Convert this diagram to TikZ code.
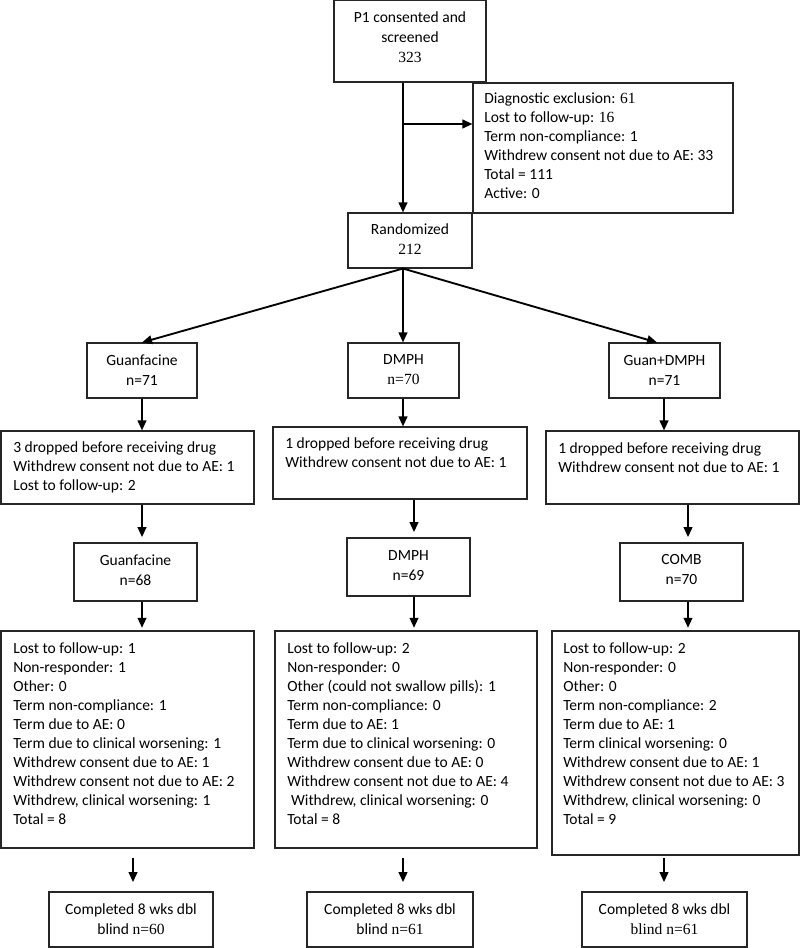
\documentclass[tikz,border=0pt]{standalone}
\usepackage{fontspec}
\setmainfont{Carlito}
\newfontfamily\tnr{Liberation Serif}
\usetikzlibrary{arrows.meta,fit}
\newcommand\myfs{\fontsize{11.65}{14.25}\selectfont}
\newcommand\myfsc{\fontsize{11.65}{15}\selectfont}
\begin{document}
\begin{tikzpicture}[x=0.75pt,y=-0.75pt,
  box/.style={draw=black!85,line width=0.8pt,inner sep=0pt},
  ltxt/.style={inner sep=0pt,anchor=north west,align=left,font=\myfs},
  ctxt/.style={inner sep=0pt,align=center,font=\myfsc},
  arr/.style={-{Triangle[length=7.5pt,width=6.5pt]},line width=1.4pt}]
\useasboundingbox (0,0) rectangle (800,948);

% row 0
\node[box,fit={(334,0.6)(486,82)}] (top) {};
\node[ctxt] (topT) at (410,37) {P1 consented and\\screened\\{\tnr 323}};
\node[box,fit={(473,83)(733,213)}] (excl) {};
\node[ltxt] (exclT) at (484,92) {Diagnostic exclusion: {\tnr 61}\\Lost to follow-up: {\tnr 16}\\Term non-compliance: 1\\Withdrew consent not due to AE: 33\\Total = 111\\Active: 0};
\node[box,fit={(348,213)(472,268)}] (rand) {};
\node[ctxt] (randT) at (410,239) {Randomized\\{\tnr 212}};

% row 1
\node[box,fit={(87,343)(197,398)}] (g1) {};
\node[ctxt] (g1T) at (142,370) {Guanfacine\\n=71};
\node[box,fit={(348,343)(459,398)}] (d1) {};
\node[ctxt] (d1T) at (403.5,370) {DMPH\\{\tnr n=70}};
\node[box,fit={(609,343)(720,398)}] (c1) {};
\node[ctxt] (c1T) at (664.5,370) {Guan+DMPH\\n=71};

% row 2
\node[box,fit={(1,431)(254,504)}] (g2) {};
\node[ltxt] (g2T) at (13,441) {3 dropped before receiving drug\\Withdrew consent not due to AE: 1\\Lost to follow-up: 2};
\node[box,fit={(273,427)(527,499)}] (d2) {};
\node[ltxt] (d2T) at (285,437) {1 dropped before receiving drug\\Withdrew consent not due to AE: 1};
\node[box,fit={(546,431)(799,504)}] (c2) {};
\node[ltxt] (c2T) at (558,442) {1 dropped before receiving drug\\Withdrew consent not due to AE: 1};

% row 3
\node[box,fit={(74,543)(197,601)}] (g3) {};
\node[ctxt] (g3T) at (135.5,570) {Guanfacine\\n=68};
\node[box,fit={(347,538)(470,596)}] (d3) {};
\node[ctxt] (d3T) at (408.5,566) {DMPH\\n=69};
\node[box,fit={(620,543)(743,601)}] (c3) {};
\node[ctxt] (c3T) at (681.5,570) {COMB\\n=70};

% row 4
\node[box,fit={(1,631)(254,848)}] (g4) {};
\node[ltxt] (g4T) at (13,642) {Lost to follow-up: 1\\Non-responder: 1\\Other: 0\\Term non-compliance: 1\\Term due to AE: 0\\Term due to clinical worsening: 1\\Withdrew consent due to AE: 1\\Withdrew consent not due to AE: 2\\Withdrew, clinical worsening: 1\\Total = 8};
\node[box,fit={(275,631)(537,848)}] (d4) {};
\node[ltxt] (d4T) at (287,642) {Lost to follow-up: 2\\Non-responder: 0\\Other (could not swallow pills): 1\\Term non-compliance: 0\\Term due to AE: 1\\Term due to clinical worsening: 0\\Withdrew consent due to AE: 0\\Withdrew consent not due to AE: 4\\\hspace*{0.25em}Withdrew, clinical worsening: 0\\Total = 8};
\node[box,fit={(552,631)(799,855)}] (c4) {};
\node[ltxt] (c4T) at (563,642) {Lost to follow-up: 2\\Non-responder: 0\\Other: 0\\Term non-compliance: 2\\Term due to AE: 1\\Term clinical worsening: 0\\Withdrew consent due to AE: 1\\Withdrew consent not due to AE: 3\\Withdrew, clinical worsening: 0\\Total = 9};

% row 5
\node[box,fit={(49,892)(213,947)}] (g5) {};
\node[ctxt] (g5T) at (131,919) {Completed 8 wks dbl\\blind {\tnr n=60}};
\node[box,fit={(307,892)(473,947)}] (d5) {};
\node[ctxt] (d5T) at (390,919) {Completed 8 wks dbl\\blind {\tnr n=61}};
\node[box,fit={(582,892)(747,947)}] (c5) {};
\node[ctxt] (c5T) at (664.5,919) {Completed 8 wks dbl\\{\tnr blind n=61}};

% connector columns
\coordinate (xa) at (403,0);
\coordinate (ya) at (0,124);
\coordinate (xc) at (657,0);
\coordinate (xd) at (414,0);
\coordinate (xe) at (688,0);
\coordinate (xg) at (133,0);
\coordinate (xh) at (664,0);

\draw[arr] (top.south -| xa) -- (rand.north -| xa);
\draw[arr] (xa |- ya) -- (excl.west |- ya);
\draw[arr] (rand.south -| xa) -- (g1.north);
\draw[arr] (rand.south -| xa) -- (d1.north -| xa);
\draw[arr] (rand.south -| xa) -- (c1.north -| xc);

\draw[arr] (g1.south) -- (g2.north -| g1.south);
\draw[arr] (d1.south -| xa) -- (d2.north -| xa);
\draw[arr] (c1.south -| xh) -- (c2.north -| xh);

\draw[arr,shorten >=4pt] (g2.south -| g1.south) -- (g3.north -| g1.south);
\draw[arr,shorten >=4pt] (d2.south -| xd) -- (d3.north -| xd);
\draw[arr,shorten >=4pt] (c2.south -| xe) -- (c3.north -| xe);

\draw[arr,shorten >=2pt] (g3.south -| g1.south) -- (g4.north -| g1.south);
\draw[arr,shorten >=2pt] (d3.south -| xd) -- (d4.north -| xd);
\draw[arr,shorten >=2pt] (c3.south -| xe) -- (c4.north -| xe);

\draw[arr,shorten <=7pt,shorten >=7pt] (g4.south -| xg) -- (g5.north -| xg);
\draw[arr,shorten <=7pt,shorten >=7pt] (d4.south -| xa) -- (d5.north -| xa);
\draw[arr,shorten <=2pt,shorten >=7pt] (c4.south -| xh) -- (c5.north -| xh);
\end{tikzpicture}
\end{document}
